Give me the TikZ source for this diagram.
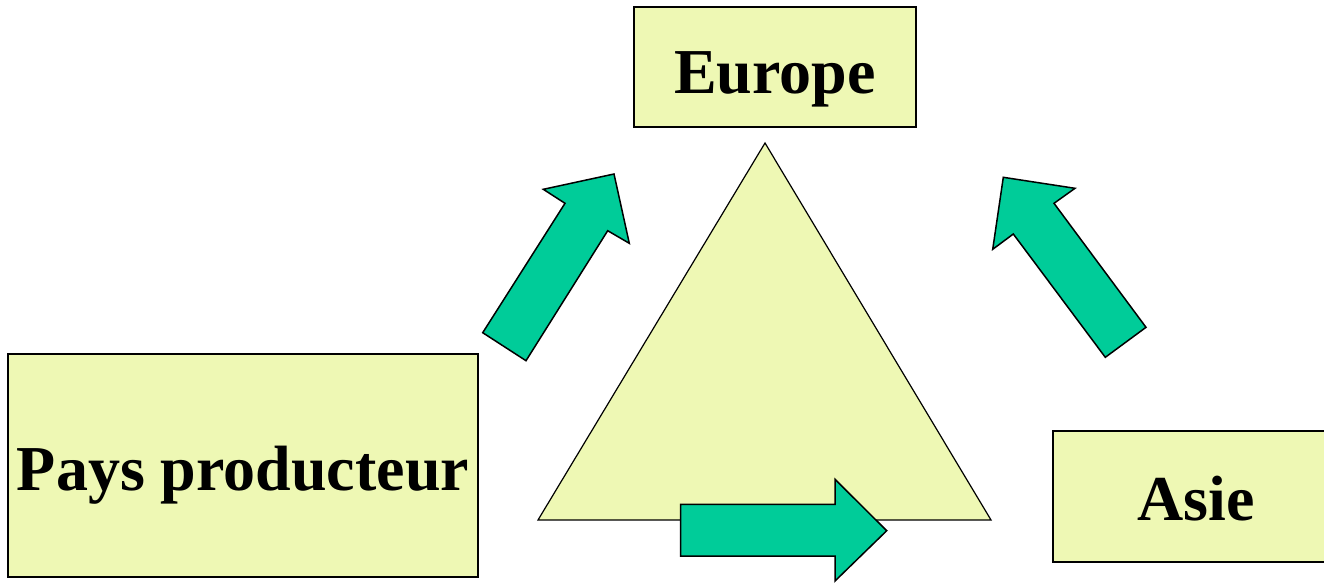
\documentclass[tikz,border=0pt]{standalone}
\usepackage{fontspec}
\setmainfont{Liberation Serif}
\definecolor{boxfill}{RGB}{238,248,180}
\definecolor{arrowfill}{RGB}{0,204,153}
\begin{document}
\begin{tikzpicture}[x=1pt,y=-1pt,
  region/.style={draw=black,line width=1.5pt,fill=boxfill,inner sep=0pt,
    font=\fontsize{64}{70}\selectfont\bfseries},
  bigarrow/.style={draw=black,line width=1.5pt,fill=arrowfill,line join=miter},
  tri/.style={draw=black,line width=1.2pt,fill=boxfill}]
\useasboundingbox (0,0) rectangle (1324,582);
% triangle
\draw[tri] (765,143) -- (991,520) -- (538,520) -- cycle;
% boxes
\node[region,minimum width=282pt,minimum height=120pt] (europe) at (775,67) {};
\node[anchor=base,font=\fontsize{64}{70}\selectfont\bfseries] (europetxt) at (775,93) {Europe};
\node[region,minimum width=470pt,minimum height=223pt] (pays) at (243,465.5) {};
\node[anchor=base,font=\fontsize{64}{70}\selectfont\bfseries] (paystxt) at (243,490) {Pays producteur};
\node[region,minimum width=272pt,minimum height=131pt,anchor=north west] (asie) at (1052,430) {};
\node[anchor=base,font=\fontsize{64}{70}\selectfont\bfseries] (asietxt) at (1196,520) {Asie};
% arrows
\draw[bigarrow] (482.7,332.7) -- (565,203.3) -- (543.3,189.3) -- (614,174) -- (629.3,243.3) -- (607.7,230.7) -- (526,360.7) -- cycle;
\draw[bigarrow] (1146,327.3) -- (1054,203.3) -- (1075,188.3) -- (1003.3,177.3) -- (992.7,249.3) -- (1013.3,234) -- (1105.3,357.3) -- cycle;
\draw[bigarrow] (680.7,504.3) -- (835,504.3) -- (835,479.3) -- (886.7,530.7) -- (835,581) -- (835,556) -- (680.7,556) -- cycle;
\end{tikzpicture}
\end{document}
